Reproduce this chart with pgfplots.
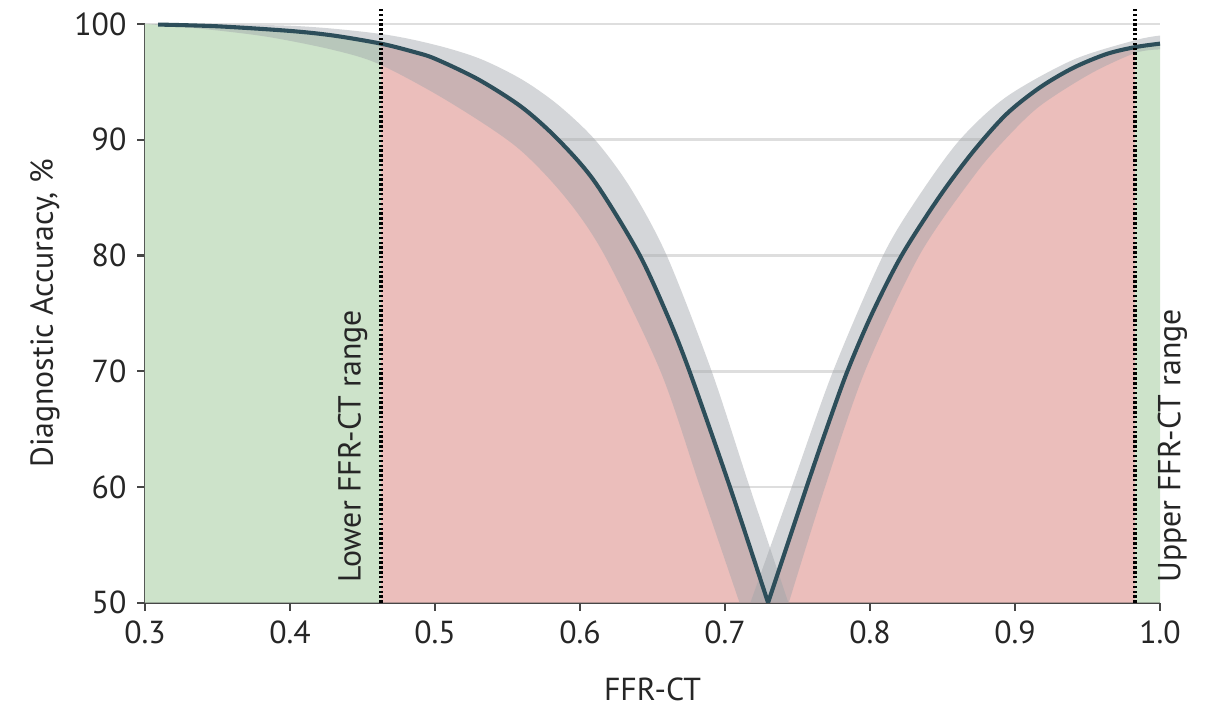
\documentclass[border=0pt]{standalone}
\usepackage{pgfplots}
\pgfplotsset{compat=1.18}
\usepgfplotslibrary{fillbetween}
\usepackage{fontspec}
\setmainfont{PT Sans}
\definecolor{fgreen}{RGB}{205,227,202}
\definecolor{fred}{RGB}{235,190,187}
\definecolor{bandc}{RGB}{160,165,170}
\definecolor{curve}{RGB}{45,78,90}
\definecolor{gridc}{RGB}{222,222,222}
\definecolor{axc}{RGB}{70,70,70}
\newcommand{\lblfont}{\fontsize{10.5}{12}\selectfont}
\begin{document}
\begin{tikzpicture}
\begin{axis}[
  scale only axis, width=335pt, height=191pt,
  xmin=0.3, xmax=1.0, ymin=50, ymax=100,
  axis x line*=bottom, axis y line*=left,
  axis line style={-, draw=axc, line width=0.7pt},
  xtick={0.3,0.4,0.5,0.6,0.7,0.8,0.9,1.0},
  xticklabels={0.3,0.4,0.5,0.6,0.7,0.8,0.9,1.0},
  ytick={50,60,70,80,90,100},
  tick align=outside, major tick length=2.6pt,
  tick style={draw=axc, line width=0.7pt},
  ymajorgrids, grid style={draw=gridc, line width=0.9pt},
  clip=false,
  /pgf/number format/assume math mode=true,
  tick label style={font=\lblfont, text=black!85},
  label style={font=\lblfont, text=black!85},
  xlabel={FFR-CT}, ylabel={Diagnostic Accuracy, \%},
  xlabel style={at={(axis description cs:0.5,-0.15)}, anchor=center},
  ylabel style={at={(axis description cs:-0.0985,0.5)}, anchor=center},
]
% base segments at y = 50
\addplot[name path=b1, draw=none] coordinates {(0.3,50) (0.4628,50)};
\addplot[name path=b2, draw=none] coordinates {(0.4628,50) (0.7297,50)};
\addplot[name path=b3, draw=none] coordinates {(0.7297,50) (0.9828,50)};
\addplot[name path=b4, draw=none] coordinates {(0.9828,50) (1.0,50)};
% curve pieces for the coloured regions
\addplot[name path=LLg, draw=none, smooth] coordinates {
(0.3,100) (0.309,99.95) (0.35,99.8) (0.40,99.4) (0.43,99.0) (0.4628,98.3)};
\addplot[name path=LLr, draw=none, smooth] coordinates {
(0.4628,98.3) (0.485,97.6) (0.50,97.0) (0.53,95.2) (0.56,92.8) (0.585,90.0) (0.61,86.4) (0.64,80.3)
(0.66,74.9) (0.6755,70.0) (0.7034,60.0) (0.7297,50.0)};
\addplot[name path=LRr, draw=none, smooth] coordinates {
(0.7297,50.0) (0.7563,60.0) (0.7697,64.9) (0.7844,70.0) (0.8015,75.0) (0.8218,80.0) (0.848,85.1)
(0.8713,89.0) (0.894,92.2) (0.917,94.5) (0.940,96.2) (0.963,97.4) (0.9828,98.0)};
\addplot[name path=LRg, draw=none, smooth] coordinates {(0.9828,98.0) (1.0,98.3)};
\addplot[fill=fgreen, draw=none] fill between[of=LLg and b1];
\addplot[fill=fred, draw=none] fill between[of=LLr and b2];
\addplot[fill=fred, draw=none] fill between[of=LRr and b3];
\addplot[fill=fgreen, draw=none] fill between[of=LRg and b4];
% confidence band, left branch
\addplot[name path=BLlo, draw=none, smooth] coordinates {
(0.30,100) (0.338,99.6) (0.384,98.9) (0.43,97.75) (0.462,96.5) (0.508,93.4) (0.556,89.4)
(0.590,85.0) (0.617,80.0) (0.6555,70.0) (0.6828,60.0) (0.710,50.0)};
\addplot[name path=BLup, draw=none, smooth] coordinates {
(0.30,100) (0.40,99.85) (0.462,99.15) (0.50,98.2) (0.531,97.0) (0.56,95.2) (0.585,93.0)
(0.6103,90.0) (0.6345,85.9) (0.6598,80.0) (0.6908,70.0) (0.717,60.0) (0.7437,50.0)};
\addplot[fill=bandc, fill opacity=0.45, draw=none] fill between[of=BLlo and BLup];
% confidence band, right branch
\addplot[name path=BRup, draw=none, smooth] coordinates {
(0.7175,50.0) (0.746,60.0) (0.7745,70.0) (0.809,80.0) (0.834,85.2) (0.862,90.0) (0.894,93.7)
(0.940,96.9) (0.983,98.6) (1.0,99.0)};
\addplot[name path=BRlo, draw=none, smooth] coordinates {
(0.744,50.0) (0.769,60.0) (0.7965,70.0) (0.834,80.0) (0.8713,86.8) (0.893,90.0) (0.917,92.9)
(0.952,95.7) (0.983,97.5) (1.0,97.8)};
\addplot[fill=bandc, fill opacity=0.45, draw=none] fill between[of=BRup and BRlo];
% main curve
\addplot[draw=curve, line width=1.35pt, smooth] coordinates {
(0.309,99.95) (0.35,99.8) (0.40,99.4) (0.43,99.0) (0.4628,98.3) (0.485,97.6) (0.50,97.0)
(0.53,95.2) (0.56,92.8) (0.585,90.0) (0.61,86.4) (0.64,80.3) (0.66,74.9) (0.6755,70.0)
(0.7034,60.0) (0.7297,50.0)};
\addplot[draw=curve, line width=1.35pt, smooth] coordinates {
(0.7297,50.0) (0.7563,60.0) (0.7697,64.9) (0.7844,70.0) (0.8015,75.0) (0.8218,80.0) (0.848,85.1)
(0.8713,89.0) (0.894,92.2) (0.917,94.5) (0.940,96.2) (0.963,97.4) (0.9828,98.0) (1.0,98.3)};
% dotted range lines
\addplot[draw=black, line width=1.05pt, dash pattern=on 0.8pt off 0.8pt] coordinates {(0.4628,50) (0.4628,101.47)};
\addplot[draw=black, line width=1.05pt, dash pattern=on 0.8pt off 0.8pt] coordinates {(0.9828,50) (0.9828,101.47)};
\node[rotate=90, anchor=south west, inner sep=0pt, font=\lblfont, text=black!85] at (axis cs:0.4538,51.7) {Lower FFR-CT range};
\node[rotate=90, anchor=north west, inner sep=0pt, font=\lblfont, text=black!85] at (axis cs:0.998,51.7) {Upper FFR-CT range};
\coordinate (bbl) at (rel axis cs:-0.14286,-0.18653);
\coordinate (btr) at (rel axis cs:1.05517,1.04145);
\end{axis}
\pgfresetboundingbox
\path[use as bounding box] (bbl) rectangle (btr);
\end{tikzpicture}
\end{document}
